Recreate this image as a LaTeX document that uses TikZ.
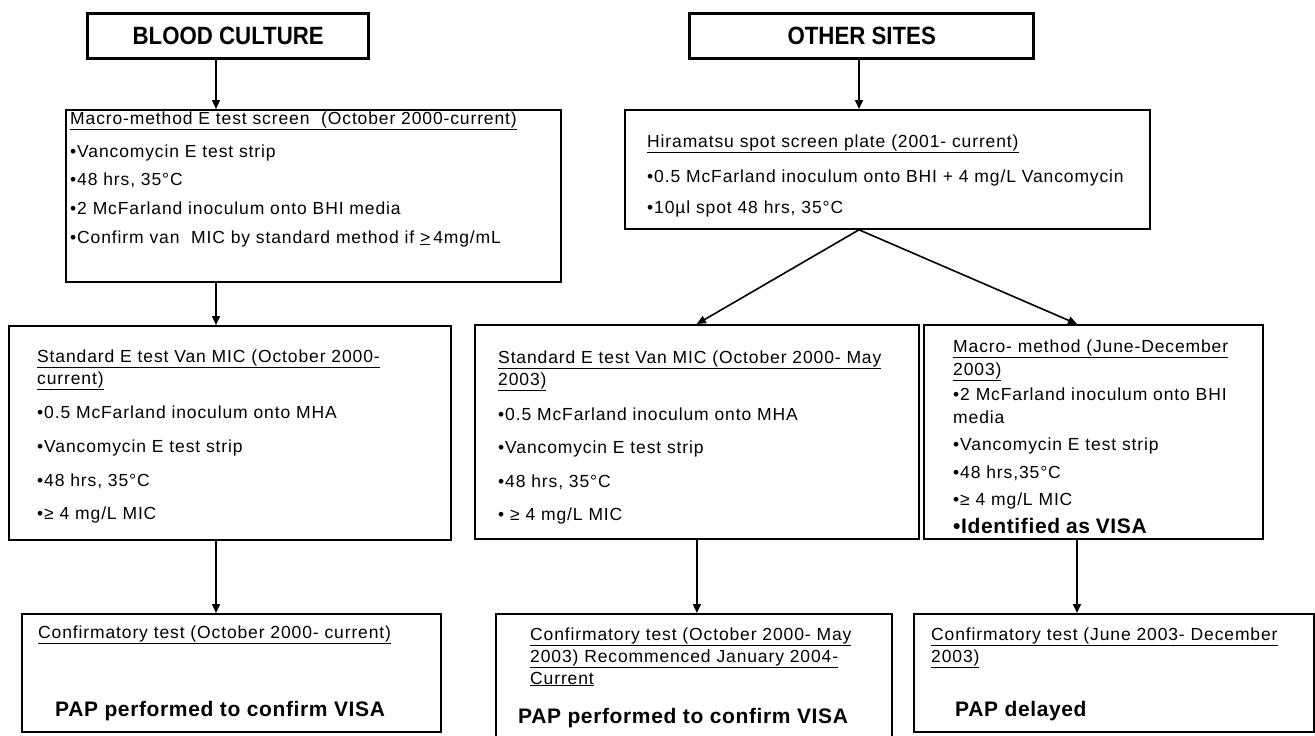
\documentclass[tikz,border=0pt]{standalone}
\usepackage{fontspec}
\setmainfont{Liberation Sans}[LetterSpace=5]
\newfontfamily\heavyfam{Liberation Sans}[LetterSpace=3]
\newfontfamily\headfam{Liberation Sans}[FakeStretch=0.89]
\usepackage{tikz}
\usetikzlibrary{arrows.meta}
\newcommand{\bodyfont}{\fontsize{17.5}{22}\selectfont}
\newcommand{\heavyfont}{\heavyfam\bfseries\fontsize{21}{22}\selectfont}
\newcommand{\headfont}{\headfam\bfseries\fontsize{25}{25}\selectfont}

\begin{document}
\begin{tikzpicture}[x=1pt, y=-1pt,
  panel/.style={draw, line width=1.8pt, anchor=north west, inner sep=0pt},
  headpanel/.style={panel, line width=3.4pt, font=\headfont},
  txt/.style={anchor=base west, inner sep=0pt, align=left, font=\bodyfont},
  paptxt/.style={anchor=base west, inner sep=0pt, font=\heavyfont},
  flow/.style={draw, line width=1.6pt, -{Triangle[length=9pt, width=8pt]}}]

\useasboundingbox (0,0) rectangle (1315,736);
\clip (0,0) rectangle (1315,736);

\node[headpanel, minimum width=281pt, minimum height=45pt] (bc) at (86,12) {BLOOD CULTURE};
\node[headpanel, minimum width=344pt, minimum height=45pt] (os) at (688,12) {OTHER SITES};

\node[panel, minimum width=495pt, minimum height=172pt] (m1) at (65,109) {};
\node[panel, minimum width=525pt, minimum height=119pt] (hira) at (624,109) {};

\node[panel, minimum width=442pt, minimum height=214pt] (stdA) at (8,325) {};
\node[panel, minimum width=444pt, minimum height=214pt] (stdB) at (474,324) {};
\node[panel, minimum width=339pt, minimum height=214pt] (macC) at (923,324) {};

\node[panel, minimum width=419pt, minimum height=118pt] (confD) at (21,613) {};
\node[panel, minimum width=396pt, minimum height=140pt] (confE) at (495,613) {};
\node[panel, minimum width=400pt, minimum height=118pt] (confF) at (913,613) {};

\node[txt, text width=485pt] (m1txt) at (70,124) {\underline{Macro-method E test screen\ \ (October 2000-current)}\\[11pt]
  •Vancomycin E test strip\\[6pt]
  •48 hrs, 35°C\\[7pt]
  •2 McFarland inoculum onto BHI media\\[7pt]
  •Confirm van\ \ MIC by standard method if \underline{>}\,4mg/mL};

\node[txt, text width=510pt] (hiratxt) at (647,147) {\underline{Hiramatsu spot screen plate (2001- current)}\\[13pt]
  •0.5 McFarland inoculum onto BHI + 4 mg/L Vancomycin\\[9pt]
  •10µl spot 48 hrs, 35°C};

\node[txt, text width=410pt] (stdAtxt) at (37,362) {\underline{Standard E test Van MIC (October 2000-}\\
  \underline{current)}\\[12pt]
  •0.5 McFarland inoculum onto MHA\\[12pt]
  •Vancomycin E test strip\\[12pt]
  •48 hrs, 35°C\\[11pt]
  •≥ 4 mg/L MIC};

\node[txt, text width=418pt] (stdBtxt) at (498,363) {\underline{Standard E test Van MIC (October 2000- May}\\
  \underline{2003)}\\[13pt]
  •0.5 McFarland inoculum onto MHA\\[11pt]
  •Vancomycin E test strip\\[12pt]
  •48 hrs, 35°C\\[11pt]
  • ≥ 4 mg/L MIC};

\node[txt, text width=305pt] (macCtxt) at (953,352) {\underline{Macro- method (June-December}\\[1pt]
  \underline{2003)}\\[3pt]
  •2 McFarland inoculum onto BHI\\[1pt]
  media\\[5pt]
  •Vancomycin E test strip\\[6pt]
  •48 hrs,35°C\\[5pt]
  •≥ 4 mg/L MIC\\[6pt]
  {\heavyfont •Identified as VISA}};

\node[txt, text width=395pt] (confDtxt) at (38,638) {\underline{Confirmatory test (October 2000- current)}};
\node[paptxt] (papD) at (55,716) {PAP performed to confirm VISA};

\node[txt, text width=360pt] (confEtxt) at (530,640) {\underline{Confirmatory test (October 2000- May}\\
  \underline{2003) Recommenced January 2004-}\\
  \underline{Current}};
\node[paptxt] (papE) at (518,723) {PAP performed to confirm VISA};

\node[txt, text width=378pt] (confFtxt) at (931,640) {\underline{Confirmatory test (June 2003- December}\\
  \underline{2003)}};
\node[paptxt] (papF) at (955,716) {PAP delayed};

\coordinate (colA) at (216,0);
\coordinate (colO) at (859,0);
\coordinate (colF) at (1077,0);

\draw[flow] (bc.south -| colA) -- (m1.north -| colA);
\draw[flow] (os.south -| colO) -- (hira.north -| colO);
\draw[flow] (m1.south -| colA) -- (stdA.north -| colA);
\draw[flow] (hira.south -| colO) -- (stdB.north);
\draw[flow] (hira.south -| colO) -- (macC.north -| colF);
\draw[flow] (stdA.south -| colA) -- (confD.north -| colA);
\draw[flow] (stdB.south) -- (stdB.south |- confE.north);
\draw[flow] (macC.south -| colF) -- (confF.north -| colF);
\end{tikzpicture}
\end{document}
